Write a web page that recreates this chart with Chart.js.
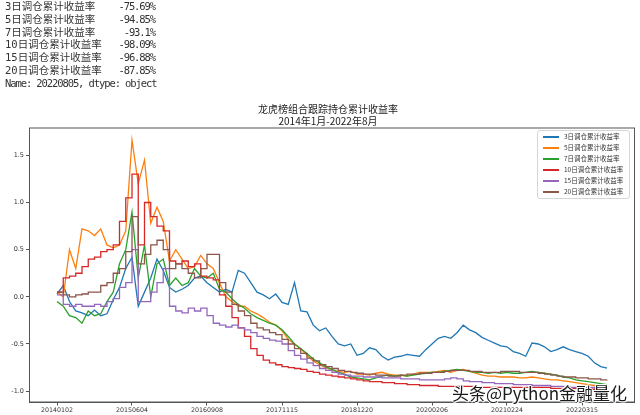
<!DOCTYPE html>
<html>
<head>
<meta charset="utf-8">
<script src="https://cdn.jsdelivr.net/npm/chart.js@4"></script>
<style>
  body { margin: 0; background: #fff; }
  #wrap { position: relative; width: 640px; height: 415px; overflow: hidden; }
  #chart { position: absolute; left: 0; top: 0; }
  .out { position: absolute; left: 5px; font-family: "DejaVu Sans Mono", "Noto Sans CJK SC", monospace; font-size: 10.5px; color: #333; line-height: 12.8px; white-space: pre; }
  .out .v { position: absolute; right: 0; letter-spacing: -1.1px; }
  .title { position: absolute; left: 228px; width: 200px; text-align: center; font-family: "Noto Sans CJK SC", sans-serif; font-size: 10px; color: #222; }
  .legend { position: absolute; left: 537px; top: 130px; width: 91px; height: 67px; border: 1px solid #d6d6d6; border-radius: 3px; background: rgba(255,255,255,0.85); }
  .legend div { position: absolute; left: 26px; font-family: "Noto Sans CJK SC", sans-serif; font-size: 6.5px; color: #333; line-height: 8px; }
  .legend span { position: absolute; left: -21px; top: 4px; width: 16px; height: 1.5px; }
  .mark { position: absolute; left: 452px; top: 380px; font-family: "Noto Sans CJK SC", sans-serif; font-size: 17px; color: #1a1a1a;
    text-shadow: 1px 0 #fff, -1px 0 #fff, 0 1px #fff, 0 -1px #fff, 1px 1px #fff, -1px -1px #fff; }
</style>
</head>
<body>
<div id="wrap">
  <canvas id="chart" width="640" height="415"></canvas>
  <div id="printout"></div>
  <div class="title" style="top:101px">龙虎榜组合跟踪持仓累计收益率</div>
  <div class="title" style="top:113px">2014年1月-2022年8月</div>
  <div class="legend" id="legend"></div>
  <div class="mark">头条@Python金融量化</div>
</div>
<script>
const seriesNames = ['3日调仓累计收益率', '5日调仓累计收益率', '7日调仓累计收益率', '10日调仓累计收益率', '15日调仓累计收益率', '20日调仓累计收益率'];
const seriesColors = ['#1f77b4', '#ff7f0e', '#2ca02c', '#d62728', '#9467bd', '#8c564b'];
const finalText = ['-75.69%', '-94.85%', '-93.1%', '-98.09%', '-96.88%', '-87.85%'];
const dateLabels = ['20140102', '20150604', '20160908', '20171115', '20181220', '20200206', '20210224', '20220315'];
const tickEvery = 12;
const yTicks = [-1.0, -0.5, 0.0, 0.5, 1.0, 1.5];

const ret3 = [0.03, 0.12, -0.05, -0.15, -0.17, -0.2, -0.14, -0.2, -0.18, -0.03,
  0.1, 0.3, 0.42, -0.1, 0.05, 0.2, 0.4, 0.28, 0.1, 0.05,
  0.08, 0.12, 0.2, 0.22, 0.15, 0.1, 0.05, 0.08, 0.05, 0.28,
  0.25, 0.15, 0.05, 0.02, -0.02, 0.03, -0.06, -0.08, 0.15, -0.15,
  -0.16, -0.3, -0.36, -0.33, -0.42, -0.5, -0.52, -0.5, -0.62, -0.6,
  -0.54, -0.56, -0.63, -0.67, -0.64, -0.63, -0.61, -0.62, -0.63, -0.56,
  -0.5, -0.44, -0.42, -0.44, -0.38, -0.3, -0.35, -0.38, -0.43, -0.46,
  -0.49, -0.52, -0.53, -0.58, -0.6, -0.63, -0.49, -0.5, -0.53, -0.58,
  -0.56, -0.53, -0.56, -0.58, -0.6, -0.63, -0.7, -0.74, -0.757];
const ret5 = [0.05, 0.0, 0.5, 0.3, 0.72, 0.7, 0.65, 0.72, 0.55, 0.52,
  0.55, 0.7, 1.66, 1.2, 1.45, 0.78, 0.95, 0.8, 0.38, 0.5,
  0.4, 0.3, 0.32, 0.44, 0.35, 0.3, 0.15, 0.0, -0.05, -0.1,
  -0.1, -0.15, -0.18, -0.22, -0.27, -0.3, -0.36, -0.45, -0.5, -0.55,
  -0.62, -0.68, -0.72, -0.75, -0.78, -0.79, -0.8, -0.79, -0.82, -0.82,
  -0.83, -0.81, -0.8, -0.82, -0.83, -0.83, -0.84, -0.82, -0.8, -0.8,
  -0.8, -0.79, -0.78, -0.8, -0.78, -0.77, -0.79, -0.81, -0.83, -0.84,
  -0.84, -0.85, -0.85, -0.85, -0.86, -0.86, -0.85, -0.86, -0.87, -0.88,
  -0.88, -0.89, -0.9, -0.91, -0.92, -0.93, -0.94, -0.94, -0.949];
const ret7 = [-0.05, -0.1, -0.2, -0.22, -0.28, -0.15, -0.2, -0.18, -0.05, 0.05,
  0.35, 0.5, 0.9, 0.2, 0.55, 0.0, 0.35, 0.4, 0.12, 0.2,
  0.12, 0.15, 0.3, 0.22, 0.2, 0.25, 0.08, 0.05, -0.02, -0.08,
  -0.12, -0.18, -0.22, -0.25, -0.28, -0.3, -0.35, -0.42, -0.5, -0.55,
  -0.6, -0.66, -0.7, -0.74, -0.77, -0.8, -0.82, -0.85, -0.86, -0.87,
  -0.88, -0.86, -0.84, -0.83, -0.84, -0.83, -0.84, -0.83, -0.82, -0.81,
  -0.8, -0.8, -0.79, -0.78, -0.77, -0.78, -0.79, -0.8, -0.8, -0.81,
  -0.8, -0.81, -0.8, -0.81, -0.81, -0.8, -0.79, -0.8, -0.81, -0.82,
  -0.83, -0.85, -0.86, -0.88, -0.89, -0.9, -0.91, -0.92, -0.931];
const ret10 = [0.05, 0.2, 0.22, 0.25, 0.32, 0.4, 0.42, 0.48, 0.5, 0.55,
  0.8, 1.05, 1.3, 0.55, 1.0, 0.85, 0.75, 0.7, 0.38, 0.35,
  0.38, 0.32, 0.35, 0.22, 0.2, 0.18, 0.02, -0.1, -0.22, -0.33,
  -0.42, -0.55, -0.62, -0.67, -0.7, -0.72, -0.74, -0.75, -0.76, -0.77,
  -0.79, -0.8, -0.82, -0.83, -0.84, -0.85, -0.86, -0.87, -0.88, -0.89,
  -0.9, -0.9, -0.91, -0.91, -0.92, -0.92, -0.93, -0.93, -0.94, -0.94,
  -0.94, -0.95, -0.95, -0.95, -0.95, -0.95, -0.95, -0.96, -0.96, -0.96,
  -0.96, -0.96, -0.96, -0.96, -0.96, -0.96, -0.96, -0.96, -0.96, -0.97,
  -0.97, -0.97, -0.97, -0.97, -0.98, -0.98, -0.98, -0.98, -0.981];
const ret15 = [0.02, -0.08, -0.1, -0.08, -0.1, -0.1, -0.08, -0.1, -0.05, -0.02,
  0.1, 0.15, 0.5, -0.05, -0.05, 0.05, 0.15, 0.3, -0.1, -0.15,
  -0.17, -0.12, -0.15, -0.12, -0.2, -0.28, -0.3, -0.32, -0.3, -0.33,
  -0.35, -0.38, -0.42, -0.44, -0.46, -0.47, -0.5, -0.57, -0.62, -0.66,
  -0.7, -0.73, -0.76, -0.78, -0.8, -0.82, -0.83, -0.84, -0.84, -0.85,
  -0.85, -0.85, -0.86, -0.86, -0.86, -0.87, -0.87, -0.87, -0.88, -0.88,
  -0.88, -0.88, -0.87, -0.86, -0.87, -0.89, -0.9, -0.9, -0.91, -0.91,
  -0.92, -0.92, -0.92, -0.93, -0.93, -0.93, -0.94, -0.94, -0.94, -0.95,
  -0.95, -0.95, -0.96, -0.96, -0.96, -0.96, -0.97, -0.97, -0.969];
const ret20 = [0.05, 0.02, 0.0, 0.02, 0.03, 0.05, 0.05, 0.12, 0.15, 0.25,
  0.3, 0.48, 0.85, 0.35, 0.45, 0.55, 0.6, 0.5, 0.3, 0.35,
  0.3, 0.25, 0.2, 0.3, 0.45, 0.45, 0.15, 0.05, -0.08, -0.15,
  -0.2, -0.28, -0.33, -0.35, -0.38, -0.4, -0.45, -0.5, -0.55, -0.6,
  -0.65, -0.68, -0.72, -0.74, -0.76, -0.78, -0.79, -0.8, -0.81, -0.82,
  -0.82, -0.83, -0.83, -0.84, -0.84, -0.83, -0.82, -0.82, -0.81, -0.81,
  -0.8, -0.8, -0.79, -0.78, -0.78, -0.78, -0.79, -0.79, -0.8, -0.8,
  -0.8, -0.79, -0.79, -0.79, -0.8, -0.8, -0.8, -0.81, -0.82, -0.83,
  -0.84, -0.85, -0.85, -0.86, -0.86, -0.87, -0.87, -0.88, -0.879];

const allSeries = [ret3, ret5, ret7, ret10, ret15, ret20];
const steppedSeries = [false, false, false, true, true, true];

// pandas-style printout above the chart
const printout = document.getElementById('printout');
seriesNames.forEach((name, i) => {
    const row = document.createElement('div');
    row.className = 'out';
    row.style.top = (i * 12.8) + 'px';
    row.style.width = '150px';
    row.innerHTML = name + '<span class="v">' + finalText[i] + '</span>';
    printout.appendChild(row);
});
const nameRow = document.createElement('div');
nameRow.className = 'out';
nameRow.style.top = (6 * 12.8) + 'px';
nameRow.style.letterSpacing = '-1.1px';
nameRow.textContent = 'Name: 20220805, dtype: object';
printout.appendChild(nameRow);

// legend
const legend = document.getElementById('legend');
seriesNames.forEach((name, i) => {
    const item = document.createElement('div');
    item.style.top = (1 + i * 11) + 'px';
    item.innerHTML = '<span style="background:' + seriesColors[i] + '"></span>' + name;
    legend.appendChild(item);
});

const frame = {
    id: 'frame',
    afterDraw(chart) {
        const a = chart.chartArea;
        const ctx = chart.ctx;
        ctx.save();
        ctx.strokeStyle = '#555';
        ctx.lineWidth = 1;
        ctx.strokeRect(a.left, a.top, a.right - a.left, a.bottom - a.top);
        ctx.restore();
    }
};

const ctx = document.getElementById('chart').getContext('2d');
new Chart(ctx, {
    type: 'line',
    data: {
        datasets: allSeries.map((vals, i) => ({
            label: seriesNames[i],
            data: vals.map((v, k) => ({ x: k, y: v })),
            borderColor: seriesColors[i],
            borderWidth: 1.3,
            pointRadius: 0,
            stepped: steppedSeries[i],
            tension: 0,
            order: allSeries.length - i
        }))
    },
    options: {
        responsive: false,
        animation: false,
        layout: { padding: { left: 0, right: 5.5, top: 128, bottom: 0 } },
        plugins: { legend: { display: false }, tooltip: { enabled: false } },
        scales: {
            x: {
                type: 'linear',
                min: -4.4,
                max: 92.4,
                afterFit: s => { s.height = 13; },
                afterBuildTicks: s => { s.ticks = dateLabels.map((d, i) => ({ value: i * tickEvery })); },
                ticks: {
                    callback: v => dateLabels[Math.round(v / tickEvery)],
                    font: { family: 'DejaVu Sans', size: 6.3 },
                    color: '#333',
                    padding: 1,
                    maxRotation: 0
                },
                grid: { drawOnChartArea: false, tickLength: 3.5, color: '#555' },
                border: { color: '#555' }
            },
            y: {
                min: -1.115,
                max: 1.79,
                afterFit: s => { s.width = 29.5; },
                afterBuildTicks: s => { s.ticks = yTicks.map(v => ({ value: v })); },
                ticks: {
                    callback: v => v.toFixed(1),
                    font: { family: 'DejaVu Sans', size: 6.5 },
                    color: '#333',
                    padding: 2
                },
                grid: { drawOnChartArea: false, tickLength: 3.5, color: '#555' },
                border: { color: '#555' }
            }
        }
    },
    plugins: [frame]
});
</script>
</body>
</html>
